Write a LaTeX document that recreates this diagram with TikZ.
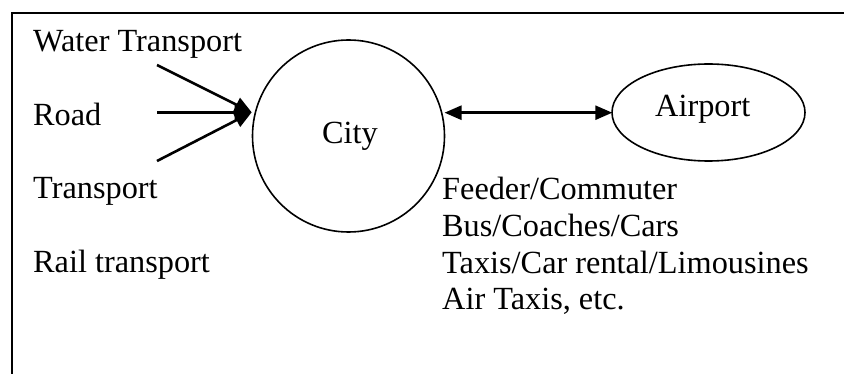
\documentclass[tikz,border=0pt]{standalone}
\usepackage{fontspec}
\setmainfont{Liberation Serif}
\usetikzlibrary{arrows.meta,shapes.geometric}
\begin{document}
\begin{tikzpicture}[x=1pt,y=-1pt,
  lbl/.style={anchor=base west,inner sep=0pt,font=\fontsize{32.3}{36.7}\selectfont},
  conn/.style={line width=2.6pt,-{Triangle[length=17pt,width=15pt]}},
  biconn/.style={line width=2.6pt,{Triangle[length=17pt,width=14pt]}-{Triangle[length=17pt,width=14pt]}},
  frame/.style={line width=1.9pt}]
\useasboundingbox (0,0) rectangle (844,374);
% frame
\coordinate (ftr) at (844,13);
\coordinate (ftl) at (12,13);
\coordinate (fbl) at (12,374);
\draw[frame] (ftr) -- (ftl) -- (fbl);
% city
\node[circle,draw,line width=1.6pt,minimum size=192pt,inner sep=0pt] (city) at (348.5,136) {};
\node[lbl] (citylabel) at (322,144) {City};
% airport
\node[ellipse,draw,line width=1.6pt,minimum width=193pt,minimum height=97pt,inner sep=0pt] (airport) at (708.5,112.5) {};
\node[lbl] (airportlabel) at (655,117) {Airport};
% left labels
\node[lbl] (water) at (33,52) {Water Transport};
\node[lbl] (road) at (33,126) {Road};
\node[lbl] (transport) at (33,199) {Transport};
\node[lbl] (rail) at (33,273) {Rail transport};
% right labels
\node[lbl] (feeder) at (442,200) {Feeder/Commuter};
\node[lbl] (bus) at (442,237) {Bus/Coaches/Cars};
\node[lbl] (taxis) at (442,273.5) {Taxis/Car rental/Limousines};
\node[lbl] (air) at (442,310) {Air Taxis, etc.};
% converging arrows
\coordinate (tip) at (251.7,112.3);
\coordinate (s1) at (157,65);
\coordinate (s2) at (157,112.3);
\coordinate (s3) at (157,161);
\draw[conn] (s1) -- (tip);
\draw[conn] (s2) -- (tip);
\draw[conn] (s3) -- (tip);
% double arrow
\coordinate (da) at (444.5,112.7);
\coordinate (db) at (612.3,112.7);
\draw[biconn] (da) -- (db);
\end{tikzpicture}
\end{document}
